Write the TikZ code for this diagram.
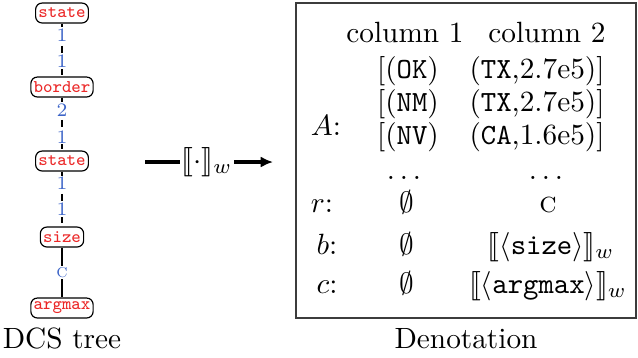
\documentclass[tikz,border=0pt]{standalone}
\usepackage{stmaryrd}
\usetikzlibrary{arrows.meta}
\definecolor{treered}{RGB}{235,40,40}
\definecolor{edgeblue}{RGB}{60,100,200}
\definecolor{boxgray}{RGB}{60,60,60}
\begin{document}
\begin{tikzpicture}[x=0.3413pt,y=-0.3413pt,
  treenode/.style={draw, rounded corners=2.2pt, line width=0.4pt, inner xsep=0.9pt, inner ysep=0.8pt,
    minimum height=6.8pt, font=\fontsize{6.1}{6.5}\selectfont\ttfamily, text=treered},
  elab/.style={fill=white, inner sep=0.5pt, font=\fontsize{6.5}{7}\selectfont, text=edgeblue},
  dashedge/.style={line width=0.45pt, dash pattern=on 2.5pt off 1.3pt},
  solidedge/.style={line width=0.45pt},
  cell/.style={anchor=base, inner sep=0pt},
  bigarrow/.style={line width=1.2pt}
]
\useasboundingbox (0,0) rectangle (638,357);

% DCS tree
\node[treenode] (s1) at (62,13) {state};
\node[treenode] (b1) at (62,87) {border};
\node[treenode] (s2) at (62,161) {state};
\node[treenode] (sz) at (62,237) {size};
\node[treenode] (am) at (62,308) {argmax};
\draw[dashedge] (s1) -- node[elab,pos=0.22]{1} node[elab,pos=0.72]{1} (b1);
\draw[dashedge] (b1) -- node[elab,pos=0.24]{2} node[elab,pos=0.74]{1} (s2);
\draw[dashedge] (s2) -- node[elab,pos=0.22]{1} node[elab,pos=0.69]{1} (sz);
\draw[solidedge] (sz) -- node[elab,pos=0.5]{\textsc{c}} (am);
\node[cell] (dcs) at (62,348) {DCS tree};

% arrow
\node[inner sep=0.5pt] (sem) at (207,162) {$\llbracket\cdot\rrbracket_w$};
\coordinate (arrS) at (145,162);
\coordinate (arrE) at (273,162);
\draw[bigarrow] (arrS) -- (sem.west |- arrS);
\draw[bigarrow,-{Latex[length=4.2pt,width=3.8pt]}] (sem.east |- arrE) -- (arrE);

% denotation box
\node[draw=boxgray, line width=0.5pt, minimum width=116pt, minimum height=107.5pt, inner sep=0pt] (box) at (466,160.5) {};
\node[cell] (h1) at (405,42) {column 1};
\node[cell] (h2) at (547,42) {column 2};
\node[cell] (a11) at (408,78) {[(\texttt{OK})};
\node[cell] (a12) at (537,78) {(\texttt{TX},2.7e5)]};
\node[cell] (a21) at (408,111) {[(\texttt{NM})};
\node[cell] (a22) at (537,111) {(\texttt{TX},2.7e5)]};
\node[cell] (a31) at (408,144) {[(\texttt{NV})};
\node[cell] (a32) at (537,144) {(\texttt{CA},1.6e5)]};
\node[cell] (lA) at (326,135) {$A$:};
\node[cell] (d1) at (404,179) {$\ldots$};
\node[cell] (d2) at (546,179) {$\ldots$};
\node[cell] (lr) at (322,212) {$r$:};
\node[cell] (r1) at (407,212) {$\emptyset$};
\node[cell] (r2) at (548,212) {\textsc{c}};
\node[cell] (lb) at (327,254) {$b$:};
\node[cell] (b1c) at (407,254) {$\emptyset$};
\node[cell] (b2c) at (551,254) {$\llbracket\langle\texttt{size}\rangle\rrbracket_w$};
\node[cell] (lc) at (327,293) {$c$:};
\node[cell] (c1) at (407,293) {$\emptyset$};
\node[cell] (c2) at (548,293) {$\llbracket\langle\texttt{argmax}\rangle\rrbracket_w$};
\node[cell] (den) at (466,348) {Denotation};
\end{tikzpicture}
\end{document}
